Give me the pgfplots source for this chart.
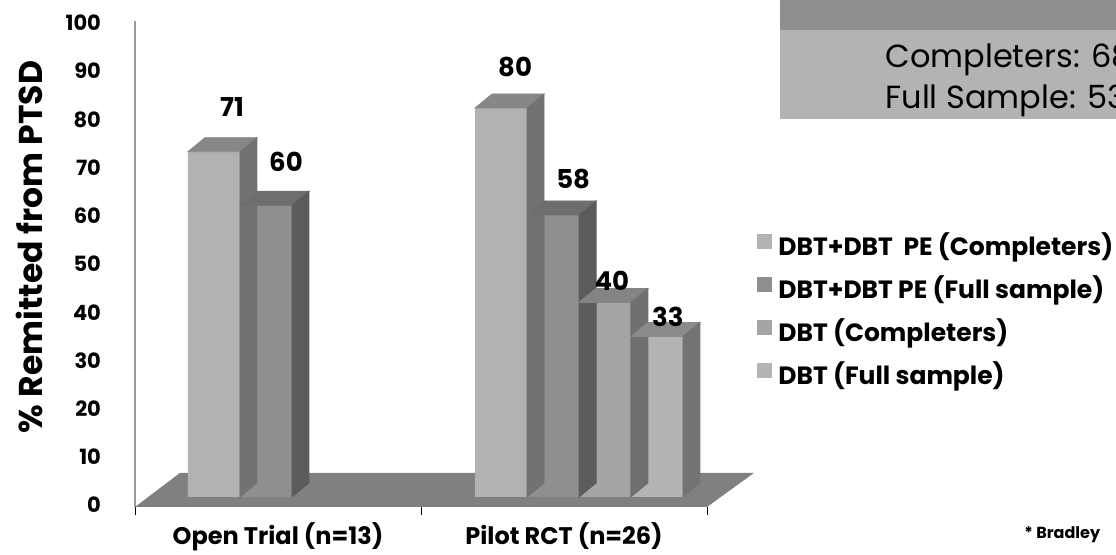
\documentclass[border=0pt]{standalone}
\usepackage{fontspec}
\setmainfont{Poppins}
\usepackage{pgfplots}
\pgfplotsset{compat=1.18}
\usepackage{pgfplotstable}
\pgfdeclareplotmark{nomark}{}
\definecolor{fA}{HTML}{B2B2B2}\definecolor{tA}{HTML}{878787}\definecolor{sA}{HTML}{727272}
\definecolor{fB}{HTML}{8F8F8F}\definecolor{tB}{HTML}{6E6E6E}\definecolor{sB}{HTML}{5C5C5C}
\definecolor{fC}{HTML}{A5A5A5}\definecolor{tC}{HTML}{848484}\definecolor{sC}{HTML}{707070}
\definecolor{fD}{HTML}{B4B4B4}\definecolor{tD}{HTML}{8A8A8A}\definecolor{sD}{HTML}{737373}
\definecolor{floorc}{HTML}{808080}
\definecolor{bandc}{HTML}{8F8F8F}
\definecolor{boxc}{HTML}{B3B3B3}

% x = bar position, y = value, lx/ly = label offset (pt)
\pgfplotstableread{
x y lx ly
0.276 71 9 22.5
1.280 80 7 20.5
}\tabA
\pgfplotstableread{
x y lx ly
0.458 60 10 21.5
1.462 58 10 18
}\tabB
\pgfplotstableread{
x y lx ly
1.643 40 3.5 11
}\tabC
\pgfplotstableread{
x y lx ly
1.825 33 5.5 10
}\tabD

\pgfplotsset{
  front/.style={ybar, bar width=26pt, bar shift=0pt, fill=#1, draw=none},
  prism/.style n args={2}{only marks, scatter, mark=nomark, forget plot,
    visualization depends on={rawy \as \rawy},
    visualization depends on={\thisrow{lx} \as \lx},
    visualization depends on={\thisrow{ly} \as \ly},
    scatter/@pre marker code/.code={%
      \fill[#1] (-13pt,0pt) -- (13pt,0pt) -- (21.5pt,7pt) -- (-4.5pt,7pt) -- cycle;
      \fill[#2] (13pt,0pt) -- (21.5pt,7pt) -- ({21.5pt},{7pt-\rawy*2.43125pt}) -- ({13pt},{-\rawy*2.43125pt}) -- cycle;
      \node[anchor=center, font=\bfseries\fontsize{13}{15}\selectfont, text=black] at ({\lx*1pt},{\ly*1pt})
        {\pgfmathprintnumber[assume math mode=true,fixed,precision=0]{\rawy}};
      \begingroup},
    scatter/@post marker code/.code={\endgroup}},
}

\begin{document}
\begin{tikzpicture}
% top-right summary box
\fill[boxc] (390pt,218pt) rectangle (600pt,277.5pt);
\fill[bandc] (390pt,262.5pt) rectangle (600pt,277.5pt);
\node[anchor=west, inner sep=0pt, font=\fontsize{16}{18}\selectfont] at (442.5pt,247.5pt) {Completers: 68\%};
\node[anchor=west, inner sep=0pt, font=\fontsize{16}{18}\selectfont] at (442.5pt,227pt) {Full Sample: 53\%};
\node[anchor=west, inner sep=0pt, font=\bfseries\fontsize{8}{9}\selectfont] at (512pt,10pt) {* Bradley};

\begin{axis}[
  at={(67.5pt,24pt)}, anchor=south west,
  x=143pt, y=2.43125pt,
  xmin=0, xmax=2, ymin=-2.06, ymax=97.9,
  clip=false, set layers,
  axis lines*=left,
  x axis line style={draw=none},
  y axis line style={draw=black!40, line width=0.6pt},
  /pgf/number format/assume math mode=true,
  xtick={0,1,2}, xticklabels={},
  tick align=outside, major tick length=4pt,
  xtick style={black, line width=0.5pt},
  extra x ticks={0.5,1.5},
  extra x tick labels={Open Trial (n=13), Pilot RCT (n=26)},
  extra x tick style={major tick length=0pt},
  xticklabel style={font=\bfseries\fontsize{12}{14}\selectfont, yshift=-4.5pt},
  ytick={-1.645,8.27,18.18,28.09,38.0,47.92,57.83,67.74,77.66,87.57,97.48},
  yticklabels={0,10,20,30,40,50,60,70,80,90,100},
  ytick style={draw=none},
  yticklabel style={font=\bfseries\fontsize{10.5}{12}\selectfont, xshift=-9.5pt},
  ylabel={\% Remitted from PTSD},
  every axis y label/.style={at={(rel axis cs:-0.185,0.535)}, rotate=90, anchor=center,
    font=\bfseries\fontsize{16.5}{18}\selectfont},
  legend style={at={(rel axis cs:1.0874,0.5617)}, anchor=north west, draw=none, fill=none,
    inner sep=0pt, row sep=8pt, column sep=3pt, font=\bfseries\fontsize{12.5}{14}\selectfont,
    nodes={inner sep=0pt, text height=9pt, text depth=3pt}},
  legend cell align=left,
  legend image code/.code={\fill[#1] (0pt,0pt) rectangle (7.5pt,7.5pt);},
]
\begin{pgfonlayer}{axis background}
\fill[floorc] (axis cs:0,-2.06) -- (axis cs:2,-2.06) -- (axis cs:2.164,4.94) -- (axis cs:0.157,4.94) -- cycle;
\end{pgfonlayer}
\addplot[front=fA] table[x=x,y=y] {\tabA};
\addlegendentry{DBT+DBT\ \ PE (Completers)}
\addplot[prism={tA}{sA}] table[x=x,y=y] {\tabA};
\addplot[front=fB] table[x=x,y=y] {\tabB};
\addlegendentry{DBT+DBT PE (Full sample)}
\addplot[prism={tB}{sB}] table[x=x,y=y] {\tabB};
\addplot[front=fC] table[x=x,y=y] {\tabC};
\addlegendentry{DBT (Completers)}
\addplot[prism={tC}{sC}] table[x=x,y=y] {\tabC};
\addplot[front=fD] table[x=x,y=y] {\tabD};
\addlegendentry{DBT (Full sample)}
\addplot[prism={tD}{sD}] table[x=x,y=y] {\tabD};
\end{axis}
\pgfresetboundingbox
\useasboundingbox (0,0) rectangle (558pt,277.5pt);
\end{tikzpicture}
\end{document}
